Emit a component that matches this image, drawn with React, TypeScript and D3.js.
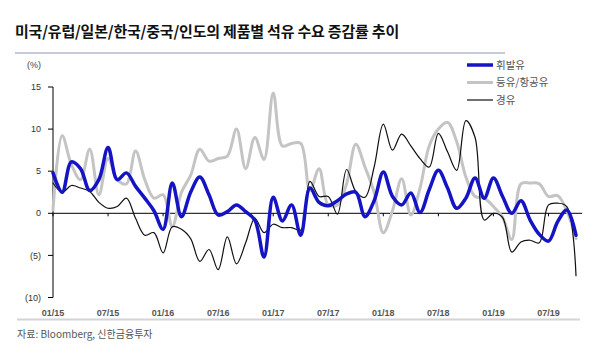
import React from "react";
import * as d3 from "d3";

const months: string[] = d3.range(58).map((i) => {
  const y = 15 + Math.floor(i / 12);
  const m = (i % 12) + 1;
  return `${String(m).padStart(2, "0")}/${y}`;
});

const tickLabels = ["01/15", "07/15", "01/16", "07/16", "01/17", "07/17", "01/18", "07/18", "01/19", "07/19"];
const yTicks = [15, 10, 5, 0, -5, -10];

// 휘발유
const gasoline = [
  4.8, 2.5, 6.1, 5.3, 2.7, 4.0, 7.8, 4.0, 4.8, 3.2,
  1.8, 0.3, -1.9, 3.6, -0.4, 2.5, 4.3, 2.2, -0.2, 0.2,
  1.0, 0.2, -0.8, -5.2, 1.9, -0.9, 1.0, -2.6, 3.0, 1.3,
  0.9, 1.5, 2.3, 2.5, -0.4, 1.5, 4.9, 2.0, 1.0, 2.4,
  0.1, 2.8, 5.1, 3.0, 0.6, 1.8, 4.2, 1.8, 4.2, 2.0,
  0.0, 1.5, -0.8, -2.5, -3.3, -1.0, 0.4, -2.6,
];
// 등유/항공유
const kerosene = [
  0.4, 9.2, 5.8, 4.0, 7.6, 2.2, 6.5, 4.0, 3.5, 7.4,
  4.0, 1.8, 2.2, -1.6, 2.5, 4.5, 7.6, 6.2, 6.5, 6.8,
  10.0, 5.3, 9.0, 6.4, 14.3, 8.0, 8.3, 8.3, 2.7, 5.3,
  1.0, 1.0, 3.5, 8.2, 5.5, 2.5, -2.3, 0.3, 4.1, -0.2,
  3.0, 8.0, 10.0, 10.8, 8.5, 4.3, 2.0, 1.8, 0.8, -0.5,
  -3.1, 3.5, 3.6, 3.5, 2.0, 2.1, 0.3, -3.0,
];
// 경유
const diesel = [
  3.6, 2.5, 3.3, 3.0, 2.6, 1.3, 0.6, 0.8, 1.8, -0.6,
  -2.6, -2.3, -4.7, -1.6, -1.9, -3.0, -5.7, -4.3, -6.7, -2.8,
  -6.0, -3.5, -0.6, -2.3, -1.3, -1.7, -1.7, -2.0, 3.8, 2.0,
  2.0, -0.1, 5.2, 2.6, 1.9, 5.5, 10.6, 7.5, 9.4, 8.0,
  6.5, 5.5, 9.5, 7.3, 5.1, 11.0, 9.0, -0.8, 0.0, -0.5,
  -4.6, -3.4, -3.2, -3.5, 1.0, 1.2, 0.8, -7.4,
];

const seriesNames = ["휘발유", "등유/항공유", "경유"];

export default function App() {
  const x = d3.scaleLinear().domain([0, months.length - 1]).range([53, 576]);
  const y = d3.scaleLinear().domain([-10, 15]).range([297.5, 87]);
  const line = (vals: number[]) =>
    d3
      .line<number>()
      .x((_, i) => x(i))
      .y((v) => y(v))
      .curve(d3.curveCatmullRom.alpha(0.5))(vals) || "";

  const series = [
    { name: seriesNames[0], data: gasoline, color: "#1414c4", width: 3.5 },
    { name: seriesNames[1], data: kerosene, color: "#c4c4c4", width: 3 },
    { name: seriesNames[2], data: diesel, color: "#111111", width: 1.2 },
  ];
  const drawOrder = [series[1], series[2], series[0]];
  const latin = "'Liberation Sans', Arial, 'Noto Sans CJK KR', sans-serif";
  const kr = "'Noto Sans CJK KR', 'Liberation Sans', sans-serif";

  return (
    <svg
      width={600}
      height={355}
      style={{ position: "absolute", left: 0, top: 0, background: "#fff" }}
    >
      <text x={15} y={37} fontFamily={kr} fontWeight={700} fontSize={15} fill="#111" letterSpacing={-0.2}>
        미국/유럽/일본/한국/중국/인도의 제품별 석유 수요 증감률 추이
      </text>
      <line x1={15} x2={505} y1={53} y2={53} stroke="#c9c9dc" strokeWidth={2} />

      <text x={27} y={68} fontFamily={latin} fontSize={9} fill="#444">(%)</text>

      {/* y axis */}
      <line x1={x(0)} x2={x(0)} y1={y(15)} y2={y(-10)} stroke="#000" strokeWidth={1} />
      {yTicks.map((t) => (
        <g key={t}>
          <line x1={x(0) - 5} x2={x(0)} y1={y(t)} y2={y(t)} stroke="#000" />
          <text
            x={41}
            y={y(t)}
            dy="0.35em"
            textAnchor="end"
            fontFamily={latin}
            fontSize={9}
            fill="#333"
          >
            {t < 0 ? `(${-t})` : `${t}`}
          </text>
        </g>
      ))}

      {/* zero line */}
      <line x1={x(0)} x2={582} y1={y(0)} y2={y(0)} stroke="#000" strokeWidth={1} />
      {tickLabels.map((lab) => {
        const xi = x(months.indexOf(lab));
        return (
          <g key={lab}>
            <line x1={xi} x2={xi} y1={y(0)} y2={y(0) + 3} stroke="#000" />
            <text
              x={xi}
              y={316}
              textAnchor="middle"
              fontFamily={latin}
              fontWeight={700}
              fontSize={9}
              fill="#555"
            >
              {lab}
            </text>
          </g>
        );
      })}

      {drawOrder.map((s) => (
        <path
          key={s.name}
          d={line(s.data)}
          fill="none"
          stroke={s.color}
          strokeWidth={s.width}
          strokeLinejoin="round"
          strokeLinecap="round"
        />
      ))}

      {/* legend */}
      {series.map((s, k) => (
        <g key={s.name}>
          <line
            x1={467}
            x2={493}
            y1={65 + k * 17.5}
            y2={65 + k * 17.5}
            stroke={s.color}
            strokeWidth={s.width}
          />
          <text
            x={496}
            y={65 + k * 17.5}
            dy="0.35em"
            fontFamily={kr}
            fontSize={10.5}
            fill="#555"
          >
            {s.name}
          </text>
        </g>
      ))}

      <line x1={17} x2={580} y1={319.5} y2={319.5} stroke="#d4d4d8" strokeWidth={2} />
      <text x={17} y={334} dy="0.35em" fontFamily={kr} fontSize={10} fill="#555">
        자료: Bloomberg, 신한금융투자
      </text>
    </svg>
  );
}
